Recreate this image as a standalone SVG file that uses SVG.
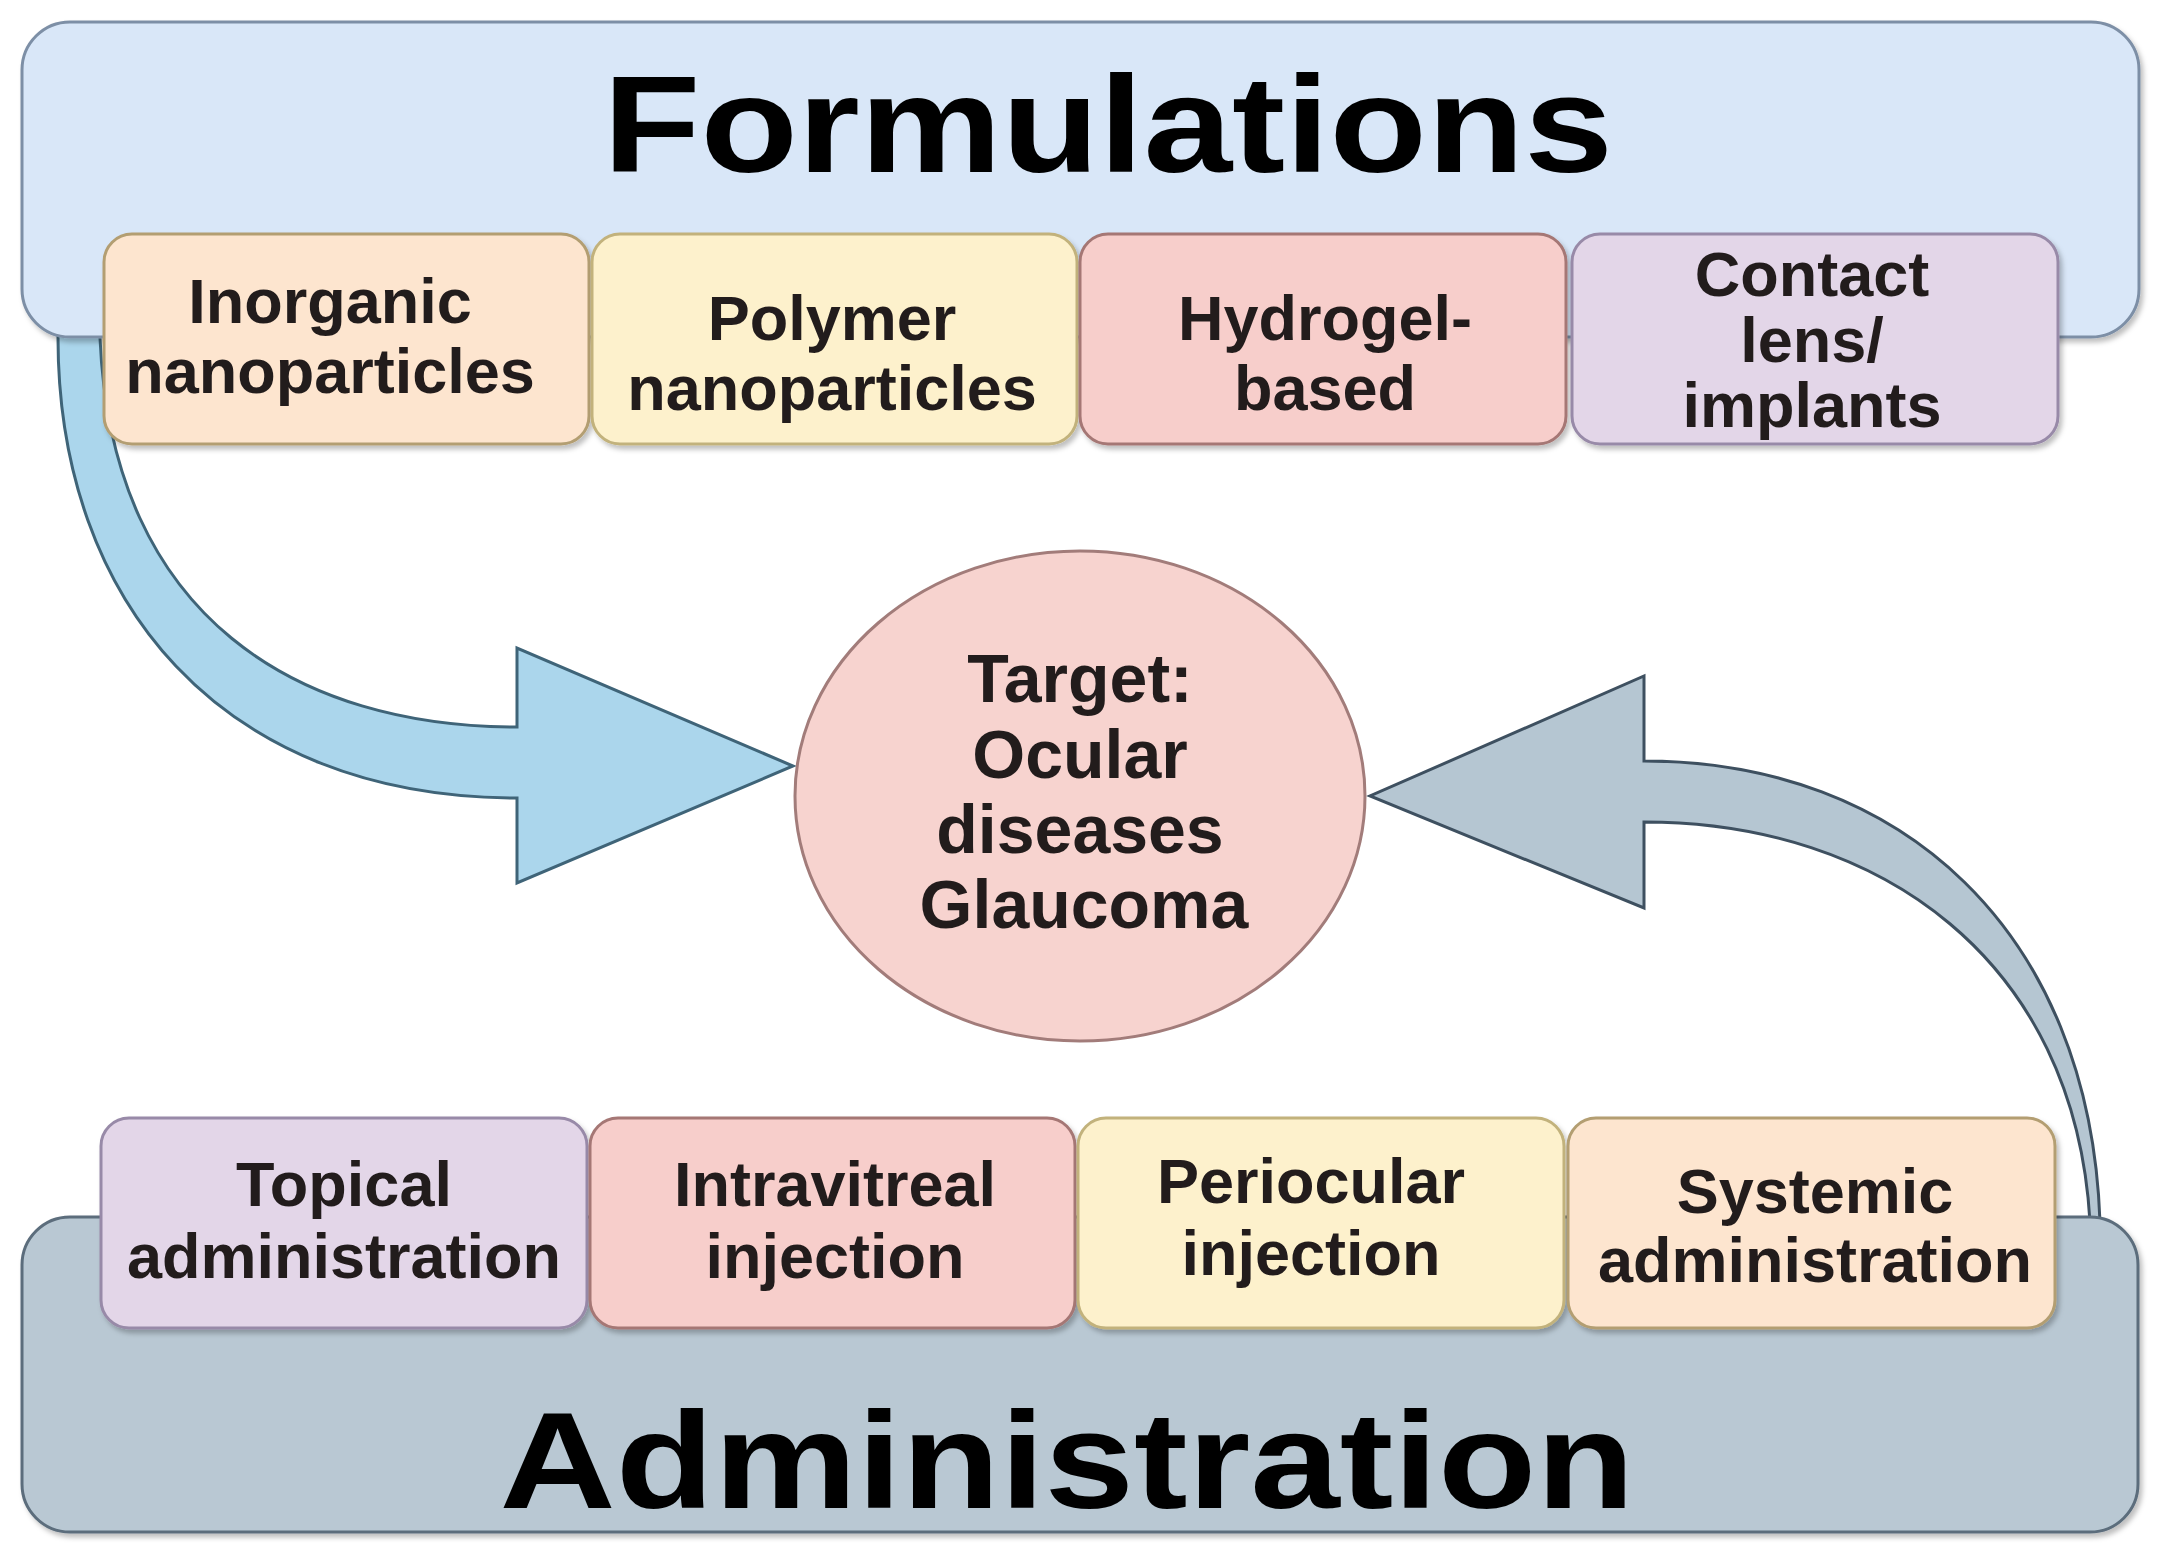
<svg xmlns="http://www.w3.org/2000/svg" width="2163" height="1560" viewBox="0 0 2163 1560">
  <defs>
    <filter id="sh" x="-5%" y="-5%" width="110%" height="115%">
      <feDropShadow dx="3" dy="4" stdDeviation="2.5" flood-color="#000" flood-opacity="0.25"/>
    </filter>
    <style>
      .title { font-family: "Liberation Sans", Arial, sans-serif; font-weight: bold; font-size: 138px; fill: #000; text-anchor: middle; }
      .lbl { font-family: "Liberation Sans", Arial, sans-serif; font-weight: bold; font-size: 63px; fill: #221c1c; text-anchor: middle; }
      .tgt { font-size: 68px; }
      .arrow { stroke-width: 3; stroke-linejoin: miter; }
      .box { stroke-width: 3; filter: url(#sh); }
      .orange { fill: #fde5cf; stroke: #b39e72; }
      .yellow { fill: #fdf1cc; stroke: #c2b27c; }
      .red { fill: #f7cecb; stroke: #a57774; }
      .purple { fill: #e3d6e8; stroke: #988aa8; }
    </style>
  </defs>
  <rect width="2163" height="1560" fill="#ffffff"/>

  <g id="connectors">
    <path id="arrow-formulations" class="arrow" fill="#abd6ec" stroke="#3f6478"
      d="M 58 300 L 58 338 C 58 600 220 798 517 798 L 517 883 L 793 766 L 517 648 L 517 727 C 300 727 112 620 100 338 L 100 300 Z"/>
    <path id="arrow-administration" class="arrow" fill="#b5c6d2" stroke="#3e5060"
      d="M 2100 1260 L 2100 1222 C 2090 930 1900 761 1644 761 L 1644 676 L 1370 796 L 1644 908 L 1644 822 C 1880 822 2075 960 2090 1222 L 2090 1260 Z"/>
  </g>

  <g id="formulations">
    <rect class="box" x="22" y="22" width="2117" height="315" rx="48" fill="#d9e7f8" stroke="#7d8fa6"/>
    <text class="title" x="1108" y="172" textLength="1010" lengthAdjust="spacingAndGlyphs">Formulations</text>
  </g>

  <g id="administration">
    <rect class="box" x="22" y="1217" width="2116" height="315" rx="48" fill="#b9c8d3" stroke="#5b6d7c"/>
    <text class="title" x="1067" y="1508" textLength="1135" lengthAdjust="spacingAndGlyphs">Administration</text>
  </g>

  <g id="inorganic">
    <rect class="box orange" x="104" y="234" width="485" height="210" rx="28"/>
    <text class="lbl" x="330" y="323">Inorganic</text>
    <text class="lbl" x="330" y="393">nanoparticles</text>
  </g>
  <g id="polymer">
    <rect class="box yellow" x="592" y="234" width="485" height="210" rx="28"/>
    <text class="lbl" x="832" y="340">Polymer</text>
    <text class="lbl" x="832" y="410">nanoparticles</text>
  </g>
  <g id="hydrogel">
    <rect class="box red" x="1080" y="234" width="486" height="210" rx="28"/>
    <text class="lbl" x="1325" y="340">Hydrogel-</text>
    <text class="lbl" x="1325" y="410">based</text>
  </g>
  <g id="contact">
    <rect class="box purple" x="1572" y="234" width="486" height="210" rx="28"/>
    <text class="lbl" x="1812" y="296">Contact</text>
    <text class="lbl" x="1812" y="362">lens/</text>
    <text class="lbl" x="1812" y="427">implants</text>
  </g>

  <g id="target">
    <ellipse cx="1080" cy="796" rx="285" ry="245" fill="#f7d3cf" stroke="#a27c7a" stroke-width="3"/>
    <text class="lbl tgt" x="1080" y="702">Target:</text>
    <text class="lbl tgt" x="1080" y="778">Ocular</text>
    <text class="lbl tgt" x="1080" y="853">diseases</text>
    <text class="lbl tgt" x="1084" y="928">Glaucoma</text>
  </g>

  <g id="topical">
    <rect class="box purple" x="101" y="1118" width="486" height="210" rx="28"/>
    <text class="lbl" x="344" y="1206">Topical</text>
    <text class="lbl" x="344" y="1278">administration</text>
  </g>
  <g id="intravitreal">
    <rect class="box red" x="590" y="1118" width="485" height="210" rx="28"/>
    <text class="lbl" x="835" y="1206">Intravitreal</text>
    <text class="lbl" x="835" y="1278">injection</text>
  </g>
  <g id="periocular">
    <rect class="box yellow" x="1078" y="1118" width="486" height="210" rx="28"/>
    <text class="lbl" x="1311" y="1203">Periocular</text>
    <text class="lbl" x="1311" y="1275">injection</text>
  </g>
  <g id="systemic">
    <rect class="box orange" x="1568" y="1118" width="487" height="210" rx="28"/>
    <text class="lbl" x="1815" y="1213">Systemic</text>
    <text class="lbl" x="1815" y="1282">administration</text>
  </g>
</svg>
